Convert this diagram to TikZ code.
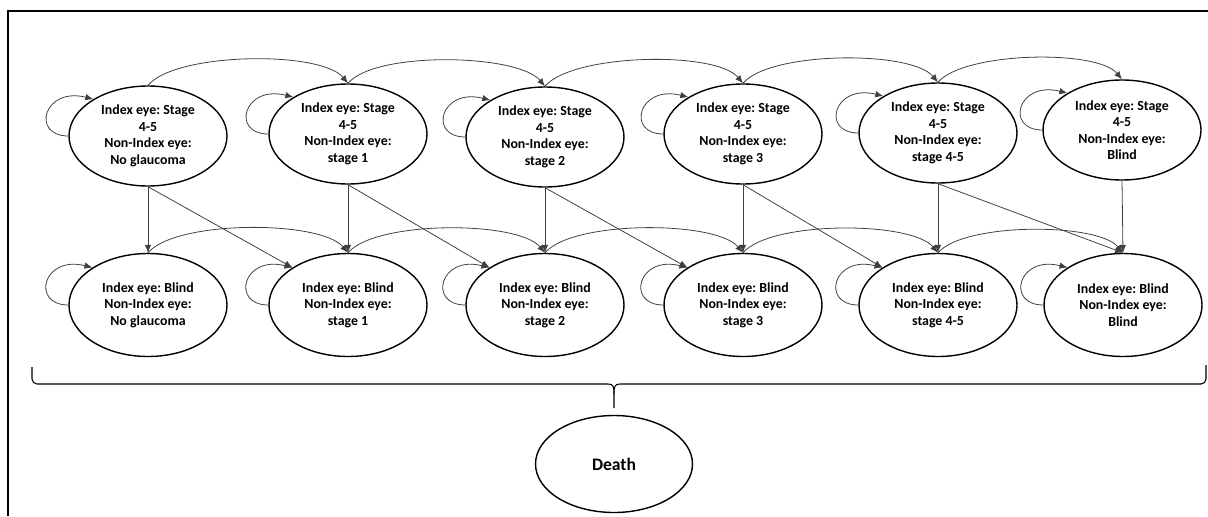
\documentclass[tikz,border=0pt]{standalone}
\usepackage{fontspec}
\setmainfont{Carlito}
\frenchspacing
\usetikzlibrary{arrows.meta,shapes.geometric}

\begin{document}
\begin{tikzpicture}[
  state/.style={draw,ellipse,line width=0.8pt,inner sep=0pt,minimum width=3.16cm,minimum height=2cm,align=center,font=\fontsize{7.9}{9.4}\selectfont\bfseries},
  link/.style={-{Latex[length=1.6mm,width=1.3mm]},line width=0.45pt,black!75},
  arcup/.style={out=50,in=130,looseness=0.55}
]
\useasboundingbox (0,0) rectangle (24.16,10.32);

\node (T1) at (2.96,7.6) [state] {Index eye: Stage\\4-5\\Non-Index eye:\\No glaucoma};
\node (T2) at (6.96,7.64) [state] {Index eye: Stage\\4-5\\Non-Index eye:\\stage 1};
\node (T3) at (10.9,7.58) [state] {Index eye: Stage\\4-5\\Non-Index eye:\\stage 2};
\node (T4) at (14.86,7.64) [state] {Index eye: Stage\\4-5\\Non-Index eye:\\stage 3};
\node (T5) at (18.76,7.66) [state] {Index eye: Stage\\4-5\\Non-Index eye:\\stage 4-5};
\node (T6) at (22.44,7.72) [state] {Index eye: Stage\\4-5\\Non-Index eye:\\Blind};

\node (B1) at (2.96,4.22) [state,minimum height=2.06cm] {Index eye: Blind\\Non-Index eye:\\No glaucoma};
\node (B2) at (6.96,4.22) [state,minimum height=2.06cm] {Index eye: Blind\\Non-Index eye:\\stage 1};
\node (B3) at (10.9,4.22) [state,minimum height=2.06cm] {Index eye: Blind\\Non-Index eye:\\stage 2};
\node (B4) at (14.86,4.22) [state,minimum height=2.06cm] {Index eye: Blind\\Non-Index eye:\\stage 3};
\node (B5) at (18.76,4.22) [state,minimum height=2.06cm] {Index eye: Blind\\Non-Index eye:\\stage 4-5};
\node (B6) at (22.46,4.22) [state,minimum height=2.06cm] {Index eye: Blind\\Non-Index eye:\\Blind};

\node (D) at (12.28,1.04) [state,minimum width=3.14cm,minimum height=1.94cm,font=\fontsize{10}{12}\selectfont\bfseries] {Death};

% staying in the same state
\draw [link] (T1.west) .. controls +(-0.75,0) and +(-1,0.25) .. (T1.146);
\draw [link] (T2.west) .. controls +(-0.75,0) and +(-1,0.25) .. (T2.146);
\draw [link] (T3.west) .. controls +(-0.75,0) and +(-1,0.25) .. (T3.146);
\draw [link] (T4.west) .. controls +(-0.75,0) and +(-1,0.25) .. (T4.146);
\draw [link] (T5.west) .. controls +(-0.75,0) and +(-1,0.25) .. (T5.146);
\draw [link] (T6.west) .. controls +(-0.75,0) and +(-1,0.25) .. (T6.146);
\draw [link] (B1.west) .. controls +(-0.75,0) and +(-1,0.25) .. (B1.146);
\draw [link] (B2.west) .. controls +(-0.75,0) and +(-1,0.25) .. (B2.146);
\draw [link] (B3.west) .. controls +(-0.75,0) and +(-1,0.25) .. (B3.146);
\draw [link] (B4.west) .. controls +(-0.75,0) and +(-1,0.25) .. (B4.146);
\draw [link] (B5.west) .. controls +(-0.75,0) and +(-1,0.25) .. (B5.146);
\draw [link] (B6.west) .. controls +(-0.75,0) and +(-1,0.25) .. (B6.146);

% non-index eye progresses
\draw [link] (T1.north) to[arcup] (T2.north);
\draw [link] (T2.north) to[arcup] (T3.north);
\draw [link] (T3.north) to[arcup] (T4.north);
\draw [link] (T4.north) to[arcup] (T5.north);
\draw [link] (T5.north) to[arcup] (T6.north);
\draw [link] (B1.north) to[arcup] (B2.north);
\draw [link] (B2.north) to[arcup] (B3.north);
\draw [link] (B3.north) to[arcup] (B4.north);
\draw [link] (B4.north) to[arcup] (B5.north);
\draw [link] (B5.north) to[arcup] (B6.north);

% index eye goes blind
\draw [link] (T1.south) -- (B1.north);
\draw [link] (T2.south) -- (B2.north);
\draw [link] (T3.south) -- (B3.north);
\draw [link] (T4.south) -- (B4.north);
\draw [link] (T5.south) -- (B5.north);
\draw [link] (T6.south) -- (B6.north);
\draw [link] (T1.south) -- (B2.146);
\draw [link] (T2.south) -- (B3.146);
\draw [link] (T3.south) -- (B4.146);
\draw [link] (T4.south) -- (B5.146);
\draw [link] (T5.south) -- (B6.north);

% brace over all states
\draw [line width=0.6pt] (0.64,2.98) -- (0.64,2.74) to[out=-90,in=180] (0.74,2.64) -- (12.16,2.64)
  .. controls (12.26,2.64) and (12.28,2.6) .. (12.28,2.44) -- (12.28,2.16);
\draw [line width=0.6pt] (24.12,3.02) -- (24.12,2.74) to[out=-90,in=0] (24.02,2.64) -- (12.4,2.64)
  .. controls (12.3,2.64) and (12.28,2.6) .. (12.28,2.44);

\draw [line width=1.4pt] (0.16,0) -- (0.16,10.1) -- (24.16,10.1);

\end{tikzpicture}
\end{document}
